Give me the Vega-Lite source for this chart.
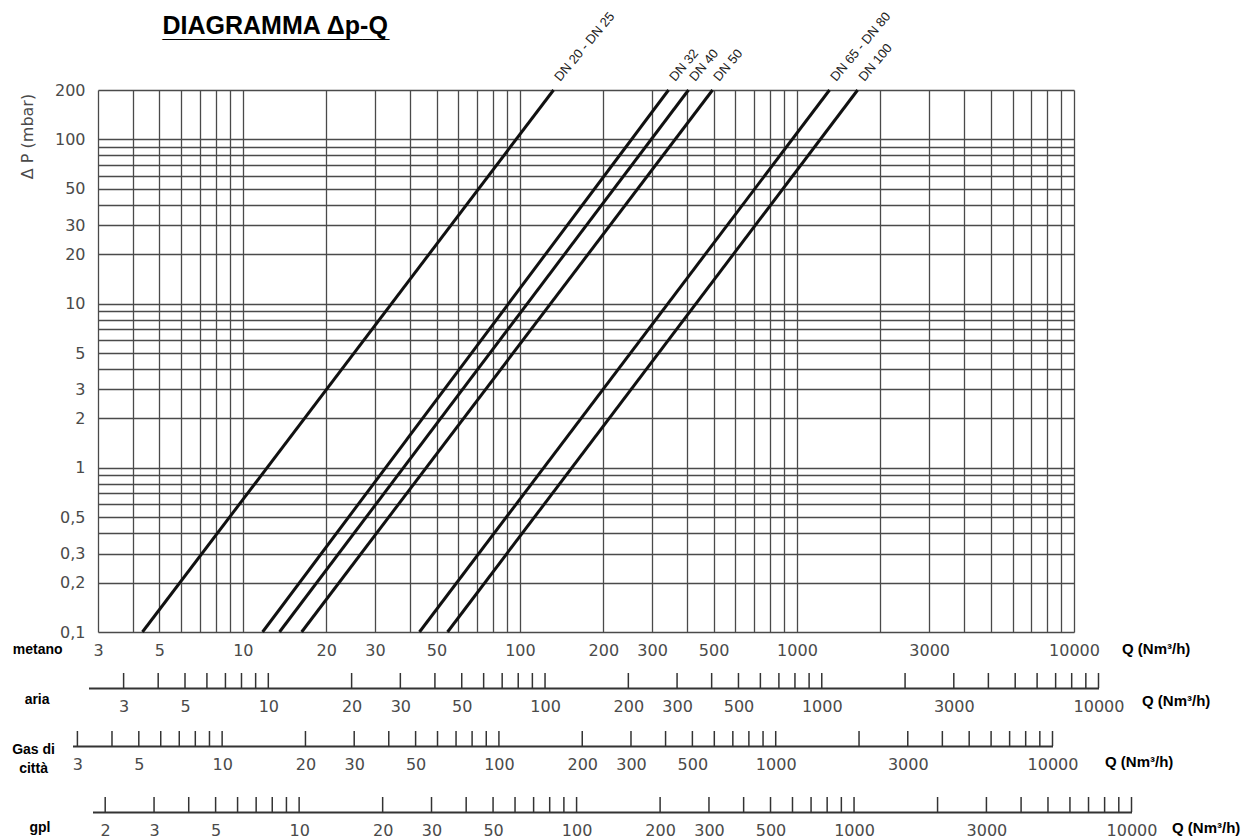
{
  "$schema": "https://vega.github.io/schema/vega-lite/v6.json",
  "padding": {"left": 12, "top": 10, "right": 5, "bottom": 0},
  "background": "white",
  "config": {"view": {"stroke": null}, "font": "Liberation Sans"},
  "title": {
    "text": "DIAGRAMMA Δp-Q",
    "subtitle": "_________________",
    "anchor": "start", "frame": "group", "orient": "top",
    "align": "left", "baseline": "alphabetic",
    "dx": 64.5, "offset": -52,
    "font": "Liberation Sans", "fontSize": 25, "fontWeight": "bold", "color": "#000",
    "subtitleFont": "Liberation Sans", "subtitleFontSize": 24, "subtitleFontWeight": "bold", "subtitleColor": "#000", "subtitlePadding": -22
  },
  "datasets": {
    "lines": [
      {"series": "DN 20 - DN 25", "q": 4.34, "dp": 0.1}, {"series": "DN 20 - DN 25", "q": 132.3, "dp": 200},
      {"series": "DN 32", "q": 11.78, "dp": 0.1}, {"series": "DN 32", "q": 344, "dp": 200},
      {"series": "DN 40", "q": 13.56, "dp": 0.1}, {"series": "DN 40", "q": 406, "dp": 200},
      {"series": "DN 50", "q": 16.3, "dp": 0.1}, {"series": "DN 50", "q": 496, "dp": 200},
      {"series": "DN 65 - DN 80", "q": 43.4, "dp": 0.1}, {"series": "DN 65 - DN 80", "q": 1311, "dp": 200},
      {"series": "DN 100", "q": 54.8, "dp": 0.1}, {"series": "DN 100", "q": 1656, "dp": 200}
    ],
    "aria": [{"q":3},{"q":4},{"q":5},{"q":6},{"q":7},{"q":8},{"q":9},{"q":10},{"q":20},{"q":30},{"q":40},{"q":50},{"q":60},{"q":70},{"q":80},{"q":90},{"q":100},{"q":200},{"q":300},{"q":400},{"q":500},{"q":600},{"q":700},{"q":800},{"q":900},{"q":1000},{"q":2000},{"q":3000},{"q":4000},{"q":5000},{"q":6000},{"q":7000},{"q":8000},{"q":9000},{"q":10000}],
    "gas": [{"q":3},{"q":4},{"q":5},{"q":6},{"q":7},{"q":8},{"q":9},{"q":10},{"q":20},{"q":30},{"q":40},{"q":50},{"q":60},{"q":70},{"q":80},{"q":90},{"q":100},{"q":200},{"q":300},{"q":400},{"q":500},{"q":600},{"q":700},{"q":800},{"q":900},{"q":1000},{"q":2000},{"q":3000},{"q":4000},{"q":5000},{"q":6000},{"q":7000},{"q":8000},{"q":9000},{"q":10000}],
    "gpl": [{"q":2},{"q":3},{"q":4},{"q":5},{"q":6},{"q":7},{"q":8},{"q":9},{"q":10},{"q":20},{"q":30},{"q":40},{"q":50},{"q":60},{"q":70},{"q":80},{"q":90},{"q":100},{"q":200},{"q":300},{"q":400},{"q":500},{"q":600},{"q":700},{"q":800},{"q":900},{"q":1000},{"q":2000},{"q":3000},{"q":4000},{"q":5000},{"q":6000},{"q":7000},{"q":8000},{"q":9000},{"q":10000}]
  },
  "bounds": "flush",
  "spacing": 41,
  "vconcat": [
    {
      "width": 976, "height": 542,
      "data": {"name": "lines"},
      "title": {"text": "metano", "orient": "left", "anchor": "start", "frame": "group", "angle": 0, "align": "center", "baseline": "middle", "offset": -68, "dy": 18, "font": "Liberation Sans", "fontSize": 14, "fontWeight": "bold", "color": "#000"},
      "encoding": {
        "x": {
          "field": "q", "type": "quantitative",
          "scale": {"type": "log", "domain": [3, 10000], "nice": false},
          "axis": {
            "values": [3,4,5,6,7,8,9,10,20,30,40,50,60,70,80,90,100,200,300,400,500,600,700,800,900,1000,2000,3000,4000,5000,6000,7000,8000,9000,10000],
            "grid": true, "gridColor": "#4a4a4a", "gridWidth": 1.3, "gridOpacity": 1,
            "ticks": false, "domain": false, "format": "~g",
            "labelExpr": "indexof([3,5,10,20,30,50,100,200,300,500,1000,3000,10000], datum.value) >= 0 ? datum.label : ''",
            "labelFont": "DejaVu Sans", "labelFontSize": 16, "labelColor": "#4a4a4a", "labelPadding": 10,
            "labelFlush": false, "labelOverlap": false, "labelBound": false,
            "title": "Q (Nm³/h)", "titleX": 1023.5, "titleY": 16, "titleAlign": "left", "titleBaseline": "middle", "titleAngle": 0,
            "titleFont": "Liberation Sans", "titleFontWeight": "bold", "titleFontSize": 15, "titleColor": "#000"
          }
        },
        "y": {
          "field": "dp", "type": "quantitative",
          "scale": {"type": "log", "domain": [0.1, 200], "nice": false},
          "axis": {
            "values": [0.1,0.2,0.3,0.4,0.5,0.6,0.7,0.8,0.9,1,2,3,4,5,6,7,8,9,10,20,30,40,50,60,70,80,90,100,200],
            "grid": true, "gridColor": "#4a4a4a", "gridWidth": 1.3, "gridOpacity": 1,
            "ticks": false, "domain": false, "format": "~g",
            "labelExpr": "indexof([0.1,0.2,0.3,0.5,1,2,3,5,10,20,30,50,100,200], datum.value) >= 0 ? replace(datum.label, '.', ',') : ''",
            "labelFont": "DejaVu Sans", "labelFontSize": 16, "labelColor": "#4a4a4a", "labelPadding": 13,
            "labelFlush": false, "labelOverlap": false, "labelBound": false,
            "title": "Δ P (mbar)", "titleX": -70.5, "titleY": 46, "titleAngle": -90, "titleAlign": "center", "titleBaseline": "middle",
            "titleFont": "DejaVu Sans", "titleFontWeight": "normal", "titleFontSize": 16, "titleColor": "#4a4a4a"
          }
        },
        "detail": {"field": "series", "type": "nominal"}
      },
      "layer": [
        {"mark": {"type": "line", "color": "#111", "strokeWidth": 3}},
        {
          "transform": [{"filter": "datum.dp == 200"}],
          "mark": {"type": "text", "align": "left", "baseline": "alphabetic", "angle": -50, "dx": 10.5, "dy": 0, "font": "Liberation Sans", "fontSize": 13, "color": "#222"},
          "encoding": {"text": {"field": "series", "type": "nominal"}}
        }
      ]
    },
    {
      "bounds": "flush",
      "spacing": 43,
      "vconcat": [
        {
          "width": 976, "height": 15,
          "data": {"name": "aria"},
          "title": {"text": "aria", "orient": "left", "anchor": "start", "frame": "group", "angle": 0, "align": "center", "baseline": "middle", "offset": 36, "dy": 12, "font": "Liberation Sans", "fontSize": 14, "fontWeight": "bold", "color": "#000"},
          "mark": {"type": "rule", "color": "#333", "strokeWidth": 1.5},
          "encoding": {
            "x": {
              "field": "q", "type": "quantitative",
              "scale": {"type": "log", "domain": [2.24, 10000], "range": [-9.5, 1000.5], "nice": false},
              "axis": {
                "values": [3,5,10,20,30,50,100,200,300,500,1000,3000,10000],
                "ticks": false, "grid": false, "domain": true, "domainColor": "#333", "domainWidth": 1.8, "format": "~g",
                "labelFont": "DejaVu Sans", "labelFontSize": 16, "labelColor": "#4a4a4a", "labelPadding": 10,
                "labelFlush": false, "labelOverlap": false, "labelBound": false,
                "title": "Q (Nm³/h)", "titleX": 1043.5, "titleY": 12, "titleAlign": "left", "titleBaseline": "middle", "titleAngle": 0,
                "titleFont": "Liberation Sans", "titleFontWeight": "bold", "titleFontSize": 15, "titleColor": "#000"
              }
            }
          }
        },
        {
          "bounds": "flush",
          "spacing": 51,
          "vconcat": [
            {
              "width": 976, "height": 15,
              "data": {"name": "gas"},
              "title": {"text": ["Gas di", "città"], "orient": "left", "anchor": "start", "frame": "group", "angle": 0, "align": "center", "baseline": "middle", "offset": -4, "dy": 4, "lineHeight": 19, "font": "Liberation Sans", "fontSize": 14, "fontWeight": "bold", "color": "#000"},
              "mark": {"type": "rule", "color": "#333", "strokeWidth": 1.5},
              "encoding": {
                "x": {
                  "field": "q", "type": "quantitative",
                  "scale": {"type": "log", "domain": [2.88, 10000], "range": [-25.5, 954.5], "nice": false},
                  "axis": {
                    "values": [3,5,10,20,30,50,100,200,300,500,1000,3000,10000],
                    "ticks": false, "grid": false, "domain": true, "domainColor": "#333", "domainWidth": 1.8, "format": "~g",
                    "labelFont": "DejaVu Sans", "labelFontSize": 16, "labelColor": "#4a4a4a", "labelPadding": 10,
                    "labelFlush": false, "labelOverlap": false, "labelBound": false,
                    "title": "Q (Nm³/h)", "titleX": 1006.5, "titleY": 15, "titleAlign": "left", "titleBaseline": "middle", "titleAngle": 0,
                    "titleFont": "Liberation Sans", "titleFontWeight": "bold", "titleFontSize": 15, "titleColor": "#000"
                  }
                }
              }
            },
            {
              "width": 976, "height": 15,
              "data": {"name": "gpl"},
              "title": {"text": "gpl", "orient": "left", "anchor": "start", "frame": "group", "angle": 0, "align": "center", "baseline": "middle", "offset": 37, "dy": 16, "font": "Liberation Sans", "fontSize": 14, "fontWeight": "bold", "color": "#000"},
              "mark": {"type": "rule", "color": "#333", "strokeWidth": 1.5},
              "encoding": {
                "x": {
                  "field": "q", "type": "quantitative",
                  "scale": {"type": "log", "domain": [1.8, 10000], "range": [-5.5, 1033.5], "nice": false},
                  "axis": {
                    "values": [2,3,5,10,20,30,50,100,200,300,500,1000,3000,10000],
                    "ticks": false, "grid": false, "domain": true, "domainColor": "#333", "domainWidth": 1.8, "format": "~g",
                    "labelFont": "DejaVu Sans", "labelFontSize": 16, "labelColor": "#4a4a4a", "labelPadding": 10,
                    "labelFlush": false, "labelOverlap": false, "labelBound": false,
                    "title": "Q (Nm³/h)", "titleX": 1073.5, "titleY": 15, "titleAlign": "left", "titleBaseline": "middle", "titleAngle": 0,
                    "titleFont": "Liberation Sans", "titleFontWeight": "bold", "titleFontSize": 15, "titleColor": "#000"
                  }
                }
              }
            }
          ]
        }
      ]
    }
  ]
}
